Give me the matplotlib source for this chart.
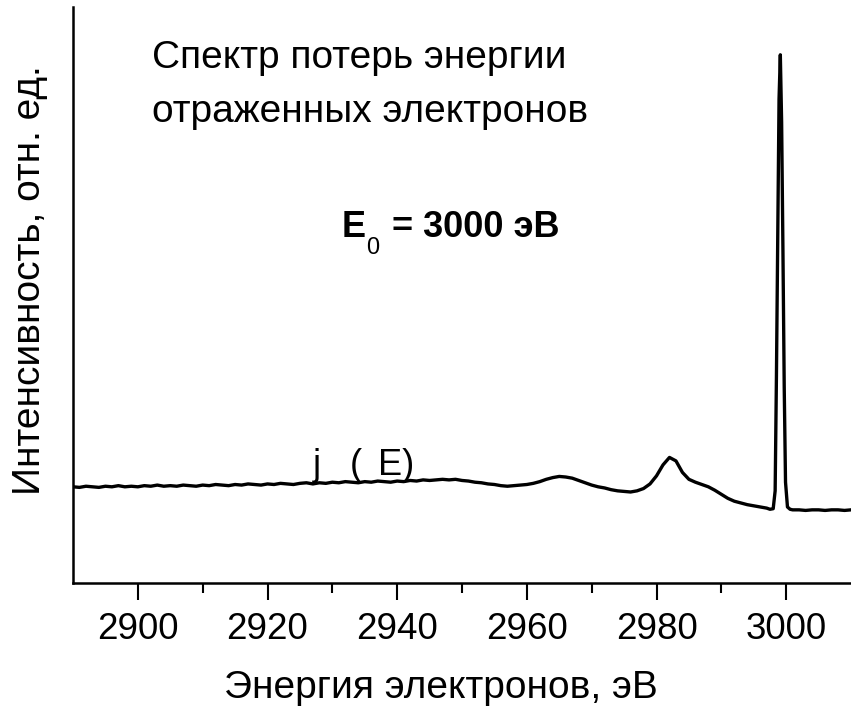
import numpy as np
from matplotlib import pyplot as plt

plt.rcParams['font.family'] = ['Liberation Sans', 'DejaVu Sans']

# energy loss spectrum (intensity in arb. units x1000)
energy = [
    2890, 2891, 2892, 2893, 2894, 2895, 2896, 2897, 2898, 2899,
    2900, 2901, 2902, 2903, 2904, 2905, 2906, 2907, 2908, 2909,
    2910, 2911, 2912, 2913, 2914, 2915, 2916, 2917, 2918, 2919,
    2920, 2921, 2922, 2923, 2924, 2925, 2926, 2927, 2928, 2929,
    2930, 2931, 2932, 2933, 2934, 2935, 2936, 2937, 2938, 2939,
    2940, 2941, 2942, 2943, 2944, 2945, 2946, 2947, 2948, 2949,
    2950, 2951, 2952, 2953, 2954, 2955, 2956, 2957, 2958, 2959,
    2960, 2961, 2962, 2963, 2964, 2965, 2966, 2967, 2968, 2969,
    2970, 2971, 2972, 2973, 2974, 2975, 2976, 2977, 2978, 2979,
    2980, 2981, 2982, 2983, 2984, 2985, 2986, 2987, 2988, 2989,
    2990, 2991, 2992, 2993, 2994, 2995, 2996, 2997, 2997.5,
    2998.0, 2998.3, 2998.5, 2998.7, 2998.9, 2999.1, 2999.3, 2999.5,
    2999.7, 2999.9, 3000.2, 3000.6,
    3001, 3002, 3003, 3004, 3005, 3006, 3007, 3008, 3009, 3010,
]
intensity = [
    167, 166, 168, 167, 166, 168, 167, 169, 167, 168,
    167, 169, 168, 170, 168, 169, 168, 170, 169, 168,
    170, 169, 171, 170, 169, 171, 170, 172, 171, 170,
    172, 171, 173, 172, 171, 173, 174, 172, 174, 173,
    175, 174, 176, 175, 174, 176, 175, 177, 176, 175,
    177, 176, 178, 177, 179, 178, 179, 180, 179, 180,
    178, 177, 175, 174, 172, 171, 169, 168, 169, 170,
    171, 173, 176, 180, 183, 185, 184, 182, 178, 174,
    170, 167, 165, 162, 160, 159, 158, 160, 164, 172,
    186, 205, 218, 212, 192, 180, 175, 171, 167, 161,
    154, 147, 142, 139, 136, 134, 132, 130, 128,
    129, 160, 360, 600, 840, 917, 800, 580,
    340, 175, 132, 128,
    127, 127, 126, 127, 127, 126, 127, 127, 126, 127,
]

x_ticks = [2900, 2920, 2940, 2960, 2980, 3000]

fig = plt.figure(figsize=(8.51, 7.13), dpi=100)
ax = fig.add_axes([73 / 851, 1 - 583 / 713, 1 - 73 / 851, 576 / 713])

ax.plot(energy, intensity, color='black', lw=2.4)

ax.set_xlim(2890, 3010)
ax.set_ylim(0, 1000)
ax.set_xticks(x_ticks)
ax.set_xticks(np.arange(2910, 3010, 20), minor=True)
ax.set_yticks([])
ax.tick_params(axis='x', which='major', length=12, width=1.5, labelsize=26.5, pad=9)
ax.tick_params(axis='x', which='minor', length=7, width=1.5)
for side in ['top', 'right']:
    ax.spines[side].set_visible(False)
for side in ['left', 'bottom']:
    ax.spines[side].set_linewidth(1.8)

W, H = 851, 713
fig.text(441 / W, 1 - 688 / H, 'Энергия электронов, эВ', fontsize=28,
         ha='center', va='center')
fig.text(30 / W, 1 - 280 / H, 'Интенсивность, отн. ед.', fontsize=28,
         ha='center', va='center', rotation=90)

fig.text(152 / W, 1 - 68 / H, 'Спектр потерь энергии', fontsize=28, va='baseline')
fig.text(152 / W, 1 - 122 / H, 'отраженных электронов', fontsize=28, va='baseline')

fig.text(342 / W, 1 - 237 / H, 'E', fontsize=26, fontweight='bold', va='baseline')
fig.text(366 / W, 1 - 254 / H, '0', fontsize=17, va='baseline')
fig.text(392 / W, 1 - 237 / H, '= 3000 эВ', fontsize=26, fontweight='bold', va='baseline')

fig.text(313 / W, 1 - 475 / H, 'j', fontsize=26, va='baseline')
fig.text(350 / W, 1 - 475 / H, '(', fontsize=26, va='baseline')
fig.text(378 / W, 1 - 475 / H, 'E)', fontsize=26, va='baseline')

fig.savefig('out.png', dpi=100)
